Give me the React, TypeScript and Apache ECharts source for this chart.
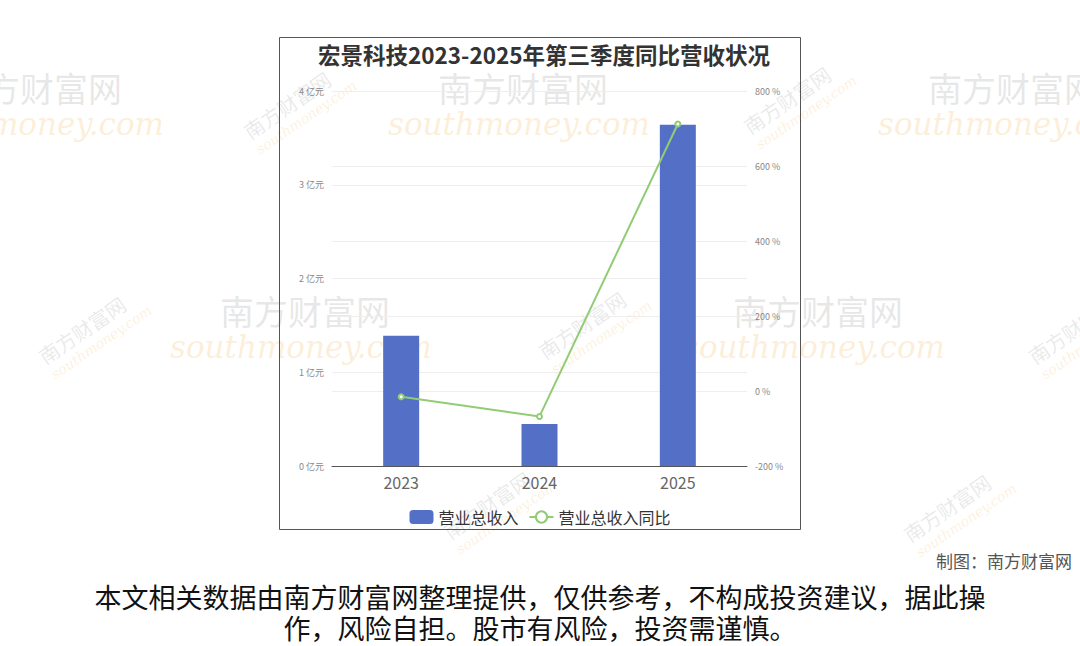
import React, { useEffect, useRef } from "react";
import * as echarts from "echarts";

const years = ["2023", "2024", "2025"];
const revenue = [1.39, 0.448, 3.64];
const yoy = [-15.2, -67.8, 712];
const title = "宏景科技2023-2025年第三季度同比营收状况";
const legendNames = ["营业总收入", "营业总收入同比"];
const credit = "制图：南方财富网";
const disclaimer1 = "本文相关数据由南方财富网整理提供，仅供参考，不构成投资建议，据此操";
const disclaimer2 = "作，风险自担。股市有风险，投资需谨慎。";
const wmCn = "南方财富网";
const wmEn = "southmoney.com";

const bigWm = [
  [-48, 70],
  [438, 70],
  [928, 70],
  [220, 293],
  [733, 293],
];
const smallWm = [
  [240, 125],
  [740, 120],
  [35, 350],
  [535, 345],
  [1025, 350],
  [440, 525],
  [900, 528],
];

export default function App() {
  const ref = useRef<HTMLDivElement>(null);
  useEffect(() => {
    const chart = echarts.init(ref.current!, null, { renderer: "svg" });
    const font = "'Noto Sans CJK SC', 'Noto Sans', sans-serif";
    const serif = "'DejaVu Serif', 'Liberation Serif', serif";
    const big = bigWm.map(([x, y]) => ({
      type: "group",
      x,
      y,
      silent: true,
      z: -10,
      children: [
        {
          type: "text",
          style: { text: wmCn, x: 0, y: 0, fontSize: 34, fontFamily: font, fill: "rgba(170,170,170,0.28)", letterSpacing: 10 },
        },
        {
          type: "text",
          style: { text: wmEn, x: -50, y: 38, fontSize: 31, fontStyle: "italic", fontFamily: serif, fill: "rgba(245,190,100,0.25)" },
        },
      ],
    }));
    const small = smallWm.map(([x, y]) => ({
      type: "group",
      x,
      y,
      rotation: 0.6,
      silent: true,
      z: -10,
      children: [
        {
          type: "text",
          style: { text: wmCn, x: 0, y: 0, fontSize: 20, fontFamily: font, fill: "rgba(170,170,170,0.25)", letterSpacing: 3 },
        },
        {
          type: "text",
          style: { text: wmEn, x: 0, y: 24, fontSize: 14, fontStyle: "italic", fontFamily: serif, fill: "rgba(245,190,100,0.22)" },
        },
      ],
    }));
    chart.setOption({
      animation: false,
      backgroundColor: "#ffffff",
      title: {
        text: title,
        left: 539,
        textAlign: "center",
        top: 38,
        textStyle: { fontSize: 22.5, fontWeight: "bold", color: "#333", fontFamily: font },
      },
      graphic: [
        ...big,
        ...small,
        {
          type: "rect",
          shape: { x: 279.5, y: 37.5, width: 521, height: 492 },
          style: { fill: "none", stroke: "#555", lineWidth: 1 },
          z: 100,
          silent: true,
        },
        {
          type: "text",
          right: 8,
          top: 552,
          style: { text: credit, fontSize: 17, fill: "#555", fontFamily: font },
        },
        {
          type: "text",
          left: "center",
          top: 583,
          style: { text: disclaimer1, fontSize: 27, fill: "#111", fontFamily: font },
        },
        {
          type: "text",
          left: "center",
          top: 614,
          style: { text: disclaimer2, fontSize: 27, fill: "#111", fontFamily: font },
        },
      ],
      legend: {
        data: legendNames,
        left: "center",
        top: 504,
        itemWidth: 24,
        itemHeight: 14,
        itemGap: 10,
        textStyle: { fontSize: 16, color: "#333", fontFamily: font },
      },
      grid: { left: 332, right: 333, top: 91, bottom: 180 },
      xAxis: {
        type: "category",
        data: years,
        axisLine: { lineStyle: { color: "#555" } },
        axisTick: { lineStyle: { color: "#555" } },
        axisLabel: { fontSize: 16, color: "#666", margin: 8, fontFamily: font },
      },
      yAxis: [
        {
          type: "value",
          min: 0,
          max: 4,
          interval: 1,
          axisLabel: { formatter: "{value} 亿元", fontSize: 9, color: "#888", fontFamily: font },
          splitLine: { lineStyle: { color: "#eee" } },
          axisLine: { show: false },
        },
        {
          type: "value",
          min: -200,
          max: 800,
          interval: 200,
          axisLabel: { formatter: "{value} %", fontSize: 9, color: "#888", fontFamily: font },
          splitLine: { lineStyle: { color: "#eee" } },
          axisLine: { show: false },
        },
      ],
      series: [
        {
          name: legendNames[0],
          type: "bar",
          data: revenue,
          barWidth: 36,
          itemStyle: { color: "#5470c6" },
        },
        {
          name: legendNames[1],
          type: "line",
          yAxisIndex: 1,
          data: yoy,
          symbol: "emptyCircle",
          symbolSize: 5,
          lineStyle: { color: "#91cc75", width: 2 },
          itemStyle: { color: "#91cc75" },
        },
      ],
    });
    return () => chart.dispose();
  }, []);
  return (
    <div
      ref={ref}
      style={{ position: "fixed", left: 0, top: 0, width: 1080, height: 646 }}
    />
  );
}
